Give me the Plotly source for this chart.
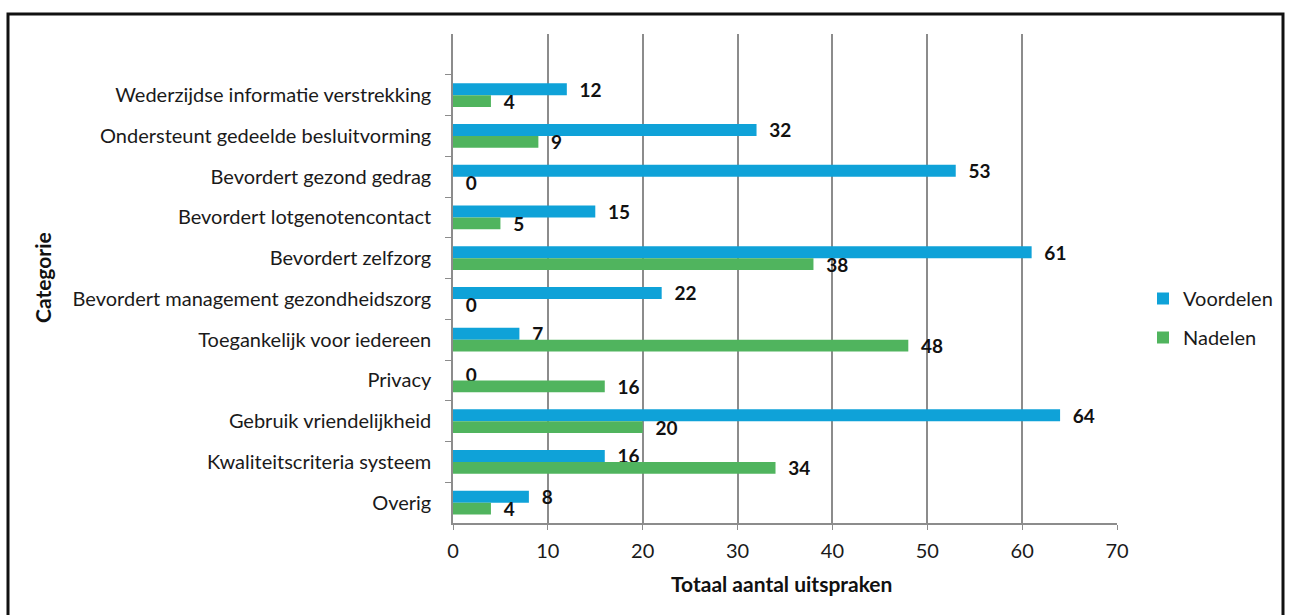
import plotly.graph_objects as go

categories = [
    "Wederzijdse informatie verstrekking",
    "Ondersteunt gedeelde besluitvorming",
    "Bevordert gezond gedrag",
    "Bevordert lotgenotencontact",
    "Bevordert zelfzorg",
    "Bevordert management gezondheidszorg",
    "Toegankelijk voor iedereen",
    "Privacy",
    "Gebruik vriendelijkheid",
    "Kwaliteitscriteria systeem",
    "Overig",
]
voordelen = [12, 32, 53, 15, 61, 22, 7, 0, 64, 16, 8]
nadelen = [4, 9, 0, 5, 38, 0, 48, 16, 20, 34, 4]
x_ticks = [0, 10, 20, 30, 40, 50, 60, 70]

FONT = "Lato"
BLUE = "#0FA2D8"
GREEN = "#50B45E"
PAD = "\u00a0\u00a0"

fig = go.Figure()
fig.add_trace(go.Bar(
    y=categories, x=voordelen, name="Voordelen", orientation="h", legendgroup="v",
    marker=dict(color=BLUE, line=dict(width=0)),
    texttemplate=PAD + "<b>%{x}</b>", textposition="outside", cliponaxis=False,
    constraintext="none",
    textfont=dict(family=FONT, size=19, color="#111"),
))
fig.add_trace(go.Bar(
    y=categories, x=nadelen, name="Nadelen", orientation="h", legendgroup="n",
    marker=dict(color=GREEN, line=dict(width=0)),
    texttemplate=PAD + "<b>%{x}</b>", textposition="outside", cliponaxis=False,
    constraintext="none",
    textfont=dict(family=FONT, size=19, color="#111"),
))

L, R, T, B = 453, 1117, 34, 523
W, H = 1290, 615
def px(x):
    return (x - L) / (R - L)
def py(y):
    return (B - y) / (B - T)

fig.update_layout(
    width=W, height=H,
    margin=dict(l=L, r=W - R, t=T, b=H - B),
    barmode="group", bargap=0.42, bargroupgap=0,
    plot_bgcolor="white", paper_bgcolor="white",
    font=dict(family=FONT, size=20, color="#1a1a1a"),
    showlegend=True,
    legend=dict(x=px(1143), y=py(279), xanchor="left", yanchor="top",
                font=dict(family=FONT, size=20, color="#1a1a1a"),
                tracegroupgap=10, bgcolor="rgba(0,0,0,0)"),
    xaxis=dict(range=[0, 70], tickvals=x_ticks, showgrid=True, gridcolor="#8c8c8c",
               gridwidth=1.5, zeroline=False, showline=True, linecolor="#8c8c8c",
               linewidth=1.5, ticks="outside", ticklen=5, tickcolor="#8c8c8c",
               ticklabelstandoff=4,
               tickfont=dict(family=FONT, size=20, color="#1a1a1a")),
    yaxis=dict(type="category", categoryorder="array", categoryarray=categories,
               range=[10.5, -1.5], showline=True, linecolor="#8c8c8c", linewidth=1.5,
               ticks="outside", ticklen=6, tickcolor="#8c8c8c", tickson="boundaries",
               showgrid=False, ticklabelstandoff=16,
               tickfont=dict(family=FONT, size=20, color="#1a1a1a")),
)

fig.add_annotation(text="<b>Totaal aantal uitspraken</b>", xref="paper", yref="paper",
                   x=px(781), y=py(583), xanchor="center", yanchor="middle",
                   showarrow=False, font=dict(family=FONT, size=21, color="#111"))
fig.add_annotation(text="<b>Categorie</b>", xref="paper", yref="paper",
                   x=px(42), y=py(278), xanchor="center", yanchor="middle",
                   showarrow=False, textangle=-90,
                   font=dict(family=FONT, size=21, color="#111"))

fig.add_shape(type="rect", xref="paper", yref="paper",
              x0=px(8), x1=px(1283), y0=py(625), y1=py(14),
              line=dict(color="#111", width=3), fillcolor="rgba(0,0,0,0)", layer="below")

fig.write_html("out.html")
